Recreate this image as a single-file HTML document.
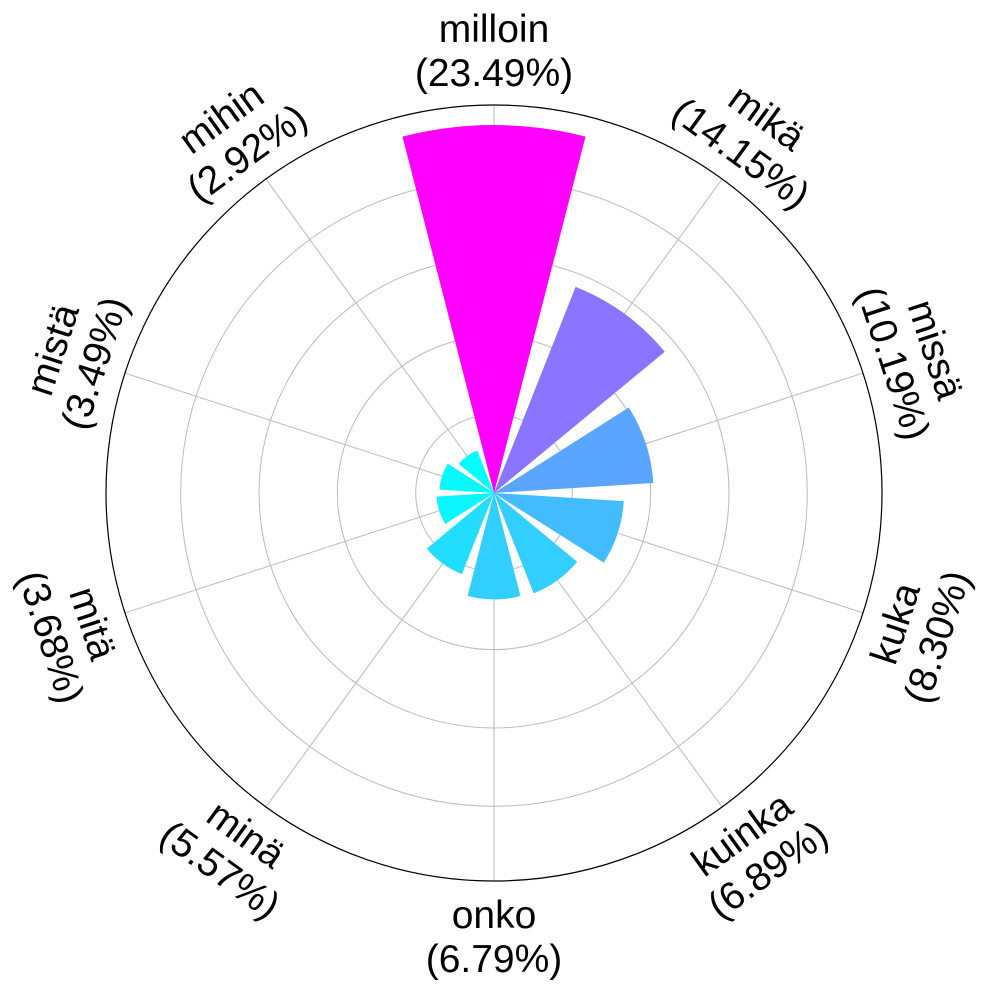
<!DOCTYPE html>
<html><head><meta charset="utf-8"><style>
html,body{margin:0;padding:0;background:#fff;}
svg{display:block;font-family:"Liberation Sans",sans-serif;}
</style></head><body>
<svg id="chart" width="991" height="989" viewBox="0 0 991 989">
<g id="grid"></g>
<g id="bars"></g>
<circle cx="494" cy="493" r="388" fill="none" stroke="#000" stroke-width="1.2"/>
<g id="labels"></g>
</svg>
<script>
const categories = ["milloin","mikä","missä","kuka","kuinka","onko","minä","mitä","mistä","mihin"];
const values = [23.49,14.15,10.19,8.30,6.89,6.79,5.57,3.68,3.49,2.92];
const ringTicks = [5,10,15,20];

const NS="http://www.w3.org/2000/svg";
const cx=494, cy=493, R=388, rmax=24.77;
const rScale=v=>v/rmax*R;
const step=360/categories.length;
const angOf=i=>i*step;
function pt(a,r){const t=a*Math.PI/180;return [cx+r*Math.sin(t), cy-r*Math.cos(t)];}
const grid=document.getElementById('grid'), bars=document.getElementById('bars'), labels=document.getElementById('labels');
ringTicks.forEach(t=>{
  const c=document.createElementNS(NS,'circle');
  c.setAttribute('cx',cx);c.setAttribute('cy',cy);c.setAttribute('r',rScale(t));
  c.setAttribute('fill','none');c.setAttribute('stroke','#bbb');c.setAttribute('stroke-width','1');
  
  
  grid.appendChild(c);
});
categories.forEach((c,i)=>{
  const [x,y]=pt(angOf(i),R);
  const l=document.createElementNS(NS,'line');
  l.setAttribute('x1',cx);l.setAttribute('y1',cy);l.setAttribute('x2',x);l.setAttribute('y2',y);
  l.setAttribute('stroke','#bbb');l.setAttribute('stroke-width','1');
  
  
  grid.appendChild(l);
});
const vmin=Math.min(...values), vmax=Math.max(...values);
categories.forEach((c,i)=>{
  const a=angOf(i), hw=step*0.4, r=rScale(values[i]);
  const p1=pt(a-hw,r), p2=pt(a+hw,r);
  const t=(values[i]-vmin)/(vmax-vmin);
  const col=`rgb(${Math.round(255*t)},${Math.round(255*(1-t))},255)`;
  const p=document.createElementNS(NS,'path');
  p.setAttribute('d',`M${cx},${cy} L${p1[0]},${p1[1]} A${r},${r} 0 0 1 ${p2[0]},${p2[1]} Z`);
  p.setAttribute('fill',col);
  
  
  bars.appendChild(p);
  let rot=a; if(a>90&&a<270) rot=a-180;
  const [lx,ly]=pt(a,443);
  const g=document.createElementNS(NS,'text');
  g.setAttribute('transform',`translate(${lx},${ly}) rotate(${rot})`);
  g.setAttribute('text-anchor','middle');g.setAttribute('font-size','39');g.setAttribute('fill','#000');
  
  
  const s1=document.createElementNS(NS,'tspan');s1.setAttribute('x','0');s1.setAttribute('y','-8');s1.textContent=c;
  const s2=document.createElementNS(NS,'tspan');s2.setAttribute('x','0');s2.setAttribute('y','36');s2.textContent='('+values[i].toFixed(2)+'%)';
  g.appendChild(s1);g.appendChild(s2);
  labels.appendChild(g);
});
</script>
</body></html>
